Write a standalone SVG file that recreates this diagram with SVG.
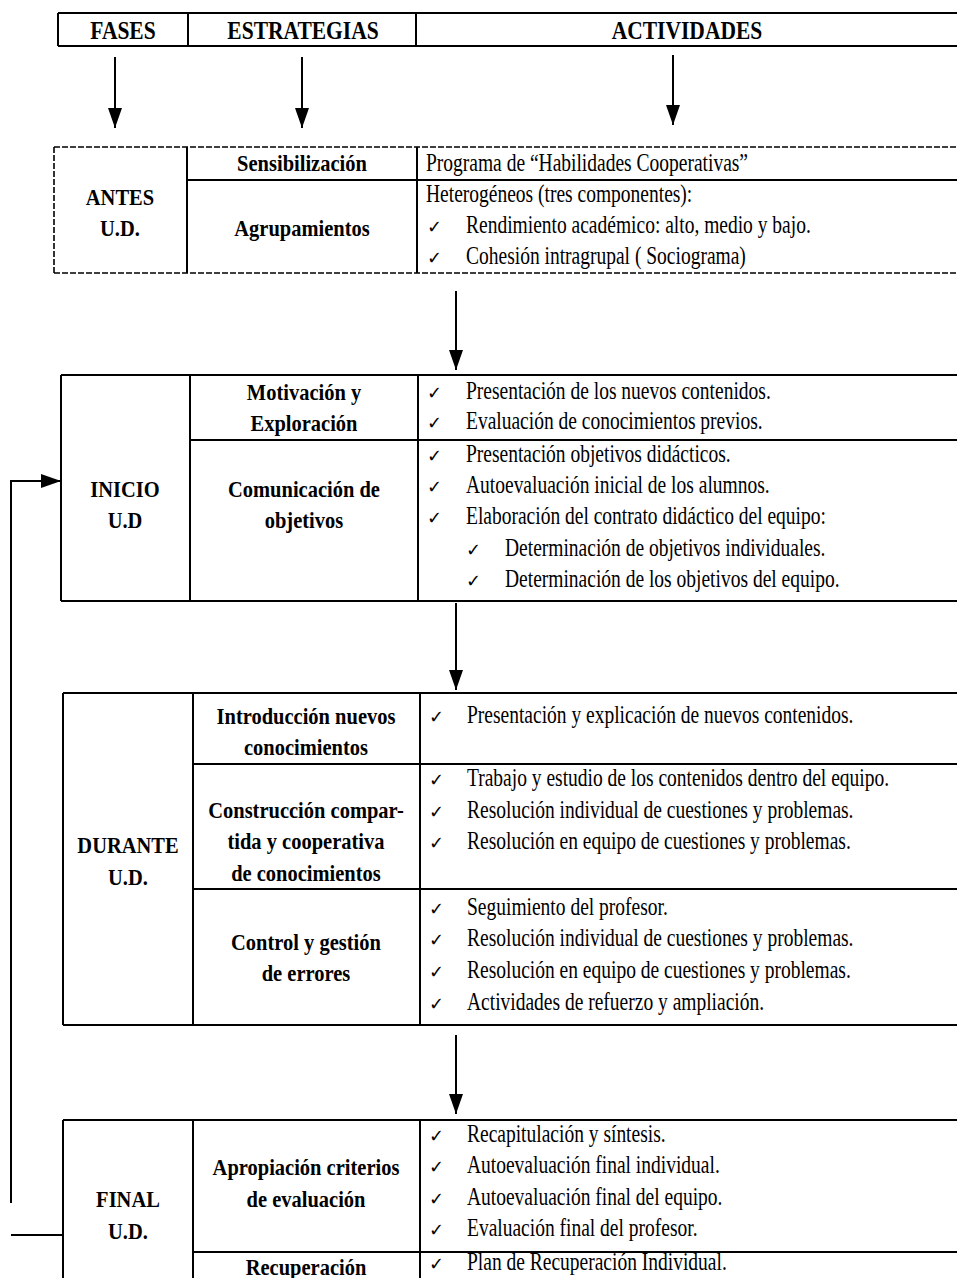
<svg xmlns="http://www.w3.org/2000/svg" width="957" height="1278" viewBox="0 0 957 1278">
<defs>
<marker id="ah" markerUnits="userSpaceOnUse" markerWidth="20" markerHeight="14" refX="20" refY="7" orient="auto">
<path d="M0,0 L20,7 L0,14 z" fill="#000"/>
</marker>
<style>
.ln{stroke:#000;stroke-width:2;fill:none}
.dl{stroke:#000;stroke-width:1.6;fill:none;stroke-dasharray:6 2}
.cn{stroke:#000;stroke-width:2;fill:none;marker-end:url(#ah)}
.t{font-family:"Liberation Serif","Times New Roman",serif;font-size:19.5px;fill:#000}
.b{font-family:"Liberation Serif","Times New Roman",serif;font-size:20.5px;font-weight:bold;text-anchor:middle;fill:#000}
.h{font-family:"Liberation Serif","Times New Roman",serif;font-size:21.5px;font-weight:bold;text-anchor:middle;fill:#000}
.ck{font-family:"DejaVu Sans",sans-serif;font-size:18px;fill:#000}
</style>
</defs>
<rect width="957" height="1278" fill="#fff"/>

<g id="header">
<path class="ln" d="M58,13 H957 M58,46 H957 M58,13 V46 M188,13 V46 M416,13 V46"/>
<g transform="scale(1,1.15)">
<text class="h" x="123" y="33.9">FASES</text>
<text class="h" x="303" y="33.9">ESTRATEGIAS</text>
<text class="h" x="687" y="33.9">ACTIVIDADES</text>
</g>
</g>

<g id="antes">
<path class="dl" d="M54,147 H957 M54,273 H957 M54,147 V273"/>
<path class="ln" d="M187,147 V273 M417,147 V273 M187,180 H957"/>
<g transform="scale(1,1.12)">
<text class="b" x="120" y="183.04">ANTES</text>
<text class="b" x="120" y="210.71">U.D.</text>
<text class="b" x="302" y="152.68">Sensibilización</text>
<text class="b" x="302" y="210.71">Agrupamientos</text>
</g>
<g class="ck"><text x="427" y="233">✓</text><text x="427" y="264">✓</text></g>
<g transform="scale(1,1.25)">
<text class="t" x="426" y="136.8">Programa de “Habilidades Cooperativas”</text>
<text class="t" x="426" y="161.6">Heterogéneos (tres componentes):</text>
<text class="t" x="466" y="186.4">Rendimiento académico: alto, medio y bajo.</text>
<text class="t" x="466" y="211.2">Cohesión intragrupal ( Sociograma)</text>
</g>
</g>

<g id="inicio">
<path class="ln" d="M61,375 H957 M61,601 H957 M61,375 V601 M190,375 V601 M418,375 V601 M190,440 H957"/>
<g transform="scale(1,1.12)">
<text class="b" x="125" y="443.75">INICIO</text>
<text class="b" x="125" y="471.43">U.D</text>
<text class="b" x="304" y="357.14">Motivación y</text>
<text class="b" x="304" y="384.82">Exploración</text>
<text class="b" x="304" y="443.75">Comunicación de</text>
<text class="b" x="304" y="471.43">objetivos</text>
</g>
<g class="ck"><text x="427" y="399">✓</text><text x="427" y="429">✓</text><text x="427" y="462">✓</text><text x="427" y="493">✓</text><text x="427" y="524">✓</text><text x="466" y="556">✓</text><text x="466" y="587">✓</text></g>
<g transform="scale(1,1.25)">
<text class="t" x="466" y="319.2">Presentación de los nuevos contenidos.</text>
<text class="t" x="466" y="343.2">Evaluación de conocimientos previos.</text>
<text class="t" x="466" y="369.6">Presentación objetivos didácticos.</text>
<text class="t" x="466" y="394.4">Autoevaluación inicial de los alumnos.</text>
<text class="t" x="466" y="419.2">Elaboración del contrato didáctico del equipo:</text>
<text class="t" x="505" y="444.8">Determinación de  objetivos individuales.</text>
<text class="t" x="505" y="469.6">Determinación de los objetivos del equipo.</text>
</g>
</g>

<g id="durante">
<path class="ln" d="M63,693 H957 M63,1025 H957 M63,693 V1025 M193,693 V1025 M420,693 V1025 M193,764 H957 M193,889 H957"/>
<g transform="scale(1,1.12)">
<text class="b" x="128" y="761.61">DURANTE</text>
<text class="b" x="128" y="790.18">U.D.</text>
<text class="b" x="306" y="646.43">Introducción nuevos</text>
<text class="b" x="306" y="674.11">conocimientos</text>
<text class="b" x="306" y="730.36">Construcción compar-</text>
<text class="b" x="306" y="758.04">tida y cooperativa</text>
<text class="b" x="306" y="786.61">de conocimientos</text>
<text class="b" x="306" y="848.21">Control y gestión</text>
<text class="b" x="306" y="875.89">de errores</text>
</g>
<g class="ck"><text x="429" y="723">✓</text><text x="429" y="786">✓</text><text x="429" y="818">✓</text><text x="429" y="849">✓</text><text x="429" y="915">✓</text><text x="429" y="946">✓</text><text x="429" y="978">✓</text><text x="429" y="1010">✓</text></g>
<g transform="scale(1,1.25)">
<text class="t" x="467" y="578.4">Presentación y explicación de nuevos contenidos.</text>
<text class="t" x="467" y="628.8">Trabajo y estudio de los contenidos dentro del equipo.</text>
<text class="t" x="467" y="654.4">Resolución individual de cuestiones y problemas.</text>
<text class="t" x="467" y="679.2">Resolución en equipo de cuestiones y problemas.</text>
<text class="t" x="467" y="732">Seguimiento del profesor.</text>
<text class="t" x="467" y="756.8">Resolución individual de cuestiones y problemas.</text>
<text class="t" x="467" y="782.4">Resolución en equipo de cuestiones y problemas.</text>
<text class="t" x="467" y="808">Actividades de refuerzo y ampliación.</text>
</g>
</g>

<g id="final">
<path class="ln" d="M63,1120 H957 M63,1120 V1278 M193,1120 V1278 M420,1120 V1278 M193,1252 H957"/>
<g transform="scale(1,1.12)">
<text class="b" x="128" y="1077.68">FINAL</text>
<text class="b" x="128" y="1106.25">U.D.</text>
<text class="b" x="306" y="1049.11">Apropiación criterios</text>
<text class="b" x="306" y="1077.68">de evaluación</text>
<text class="b" x="306" y="1138.39">Recuperación</text>
</g>
<g class="ck"><text x="429" y="1142">✓</text><text x="429" y="1173">✓</text><text x="429" y="1205">✓</text><text x="429" y="1236">✓</text><text x="429" y="1270">✓</text></g>
<g transform="scale(1,1.25)">
<text class="t" x="467" y="913.6">Recapitulación y síntesis.</text>
<text class="t" x="467" y="938.4">Autoevaluación final individual.</text>
<text class="t" x="467" y="964">Autoevaluación final del equipo.</text>
<text class="t" x="467" y="988.8">Evaluación final del profesor.</text>
<text class="t" x="467" y="1016">Plan de Recuperación Individual.</text>
</g>
</g>

<g id="connectors">
<line class="cn" x1="115" y1="57" x2="115" y2="128"/>
<line class="cn" x1="302" y1="57" x2="302" y2="128"/>
<line class="cn" x1="673" y1="55" x2="673" y2="125"/>
<line class="cn" x1="456" y1="291" x2="456" y2="370"/>
<line class="cn" x1="456" y1="603" x2="456" y2="690"/>
<line class="cn" x1="456" y1="1035" x2="456" y2="1114"/>
<path class="ln" d="M11,1203 V481"/>
<line class="cn" x1="10" y1="481" x2="61" y2="481"/>
<path class="ln" d="M11,1235 H62"/>
</g>
</svg>
